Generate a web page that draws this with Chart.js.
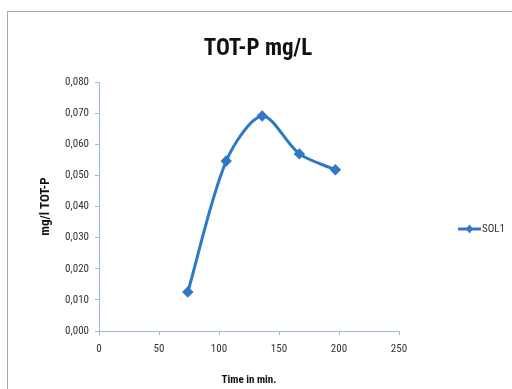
<!DOCTYPE html>
<html>
<head>
<meta charset="utf-8">
<script src="https://cdn.jsdelivr.net/npm/chart.js@4/dist/chart.umd.min.js"></script>
<style>
  html, body { margin: 0; padding: 0; background: #fff; }
  #wrap { position: relative; width: 512px; height: 389px; overflow: hidden; }
  #frame { position: absolute; left: 7px; top: 11px; width: 520px; height: 400px;
           border: 1px solid #a8a8a8; box-sizing: border-box; }
  canvas { position: absolute; left: 0; top: 0; }
</style>
</head>
<body>
<div id="wrap">
  <div id="frame"></div>
  <canvas id="chart" width="512" height="389"></canvas>
</div>
<script>
// sampling times (min) and total phosphorus readings (mg/l)
var times = [74, 106, 136, 167, 197];
var sol1 = [0.0125, 0.0546, 0.0691, 0.0569, 0.0518];
var seriesName = 'SOL1';
var chartTitle = 'TOT-P mg/L';

var lineColor = '#2f78c8';
var axisColor = '#9bb7d4';
var fontFamily = '"Liberation Sans Narrow", "Arial Narrow", "Roboto Condensed", "Liberation Sans", sans-serif';

var points = [];
for (var i = 0; i < times.length; i++) {
    points.push({ x: times[i], y: sol1[i] });
}

// title centred over the whole frame, plus the small legend on the right
var decorations = {
    id: 'decorations',
    afterDraw: function(chart) {
        var ctx = chart.ctx;
        ctx.save();
        ctx.fillStyle = '#111';
        ctx.font = 'bold 23px ' + fontFamily;
        ctx.textAlign = 'center';
        ctx.textBaseline = 'middle';
        ctx.fillText(chartTitle, 258, 49);

        var y = 229;
        ctx.strokeStyle = lineColor;
        ctx.lineWidth = 3;
        ctx.beginPath();
        ctx.moveTo(458, y);
        ctx.lineTo(481, y);
        ctx.stroke();
        ctx.fillStyle = lineColor;
        ctx.beginPath();
        ctx.moveTo(469.5, y - 4.5);
        ctx.lineTo(473, y);
        ctx.lineTo(469.5, y + 4.5);
        ctx.lineTo(466, y);
        ctx.closePath();
        ctx.fill();
        ctx.fillStyle = '#333';
        ctx.font = '11px ' + fontFamily;
        ctx.textAlign = 'left';
        ctx.fillText(seriesName, 482, y);
        ctx.restore();
    }
};

new Chart(document.getElementById('chart').getContext('2d'), {
    type: 'scatter',
    data: {
        datasets: [{
            label: seriesName,
            data: points,
            showLine: true,
            tension: 0.3,
            borderColor: lineColor,
            backgroundColor: lineColor,
            borderWidth: 3,
            pointStyle: 'rectRot',
            pointRadius: 3.6,
            pointHoverRadius: 3.6
        }]
    },
    options: {
        responsive: false,
        animation: false,
        layout: { padding: { left: 35, right: 113, top: 82, bottom: 0 } },
        plugins: {
            legend: { display: false },
            tooltip: { enabled: false },
            title: { display: false }
        },
        scales: {
            x: {
                type: 'linear',
                min: 0,
                max: 250,
                afterFit: function(scale) { scale.height = 58; },
                border: { color: axisColor, width: 1 },
                grid: { display: true, drawOnChartArea: false, drawTicks: true, tickLength: 4, color: axisColor },
                ticks: {
                    stepSize: 50,
                    color: '#333',
                    padding: 8,
                    font: { family: fontFamily, size: 11 }
                },
                title: {
                    display: true,
                    text: 'Time in min.',
                    color: '#111',
                    font: { family: fontFamily, size: 11, weight: 'bold' },
                    padding: { top: 2, bottom: 2 }
                }
            },
            y: {
                min: 0,
                max: 0.08,
                afterFit: function(scale) { scale.width = 64; },
                border: { color: axisColor, width: 1 },
                grid: { display: true, drawOnChartArea: false, drawTicks: true, tickLength: 4, color: axisColor },
                ticks: {
                    stepSize: 0.01,
                    color: '#333',
                    padding: 6,
                    font: { family: fontFamily, size: 11 },
                    callback: function(v) { return v.toFixed(3).replace('.', ','); }
                },
                title: {
                    display: true,
                    text: 'mg/l TOT-P',
                    color: '#111',
                    font: { family: fontFamily, size: 13, weight: 'bold' },
                    padding: { top: 3, bottom: 3 }
                }
            }
        }
    },
    plugins: [decorations]
});
</script>
</body>
</html>
